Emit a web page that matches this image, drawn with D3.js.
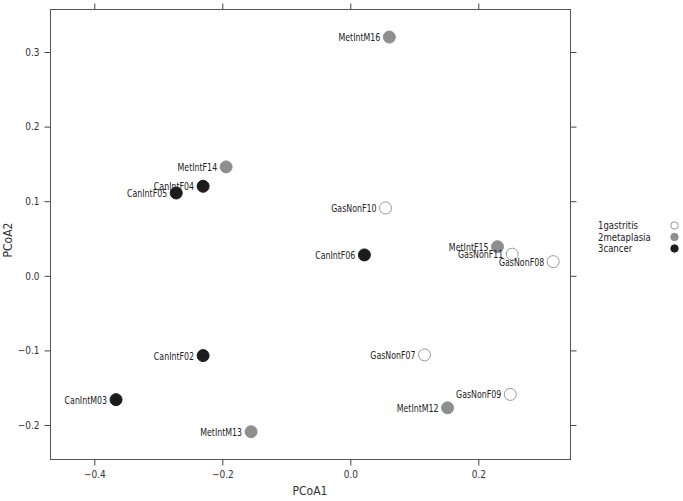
<!DOCTYPE html>
<html><head><meta charset="utf-8">
<script src="https://cdn.jsdelivr.net/npm/d3@7"></script>
<style>
body{margin:0;background:#fff;}
svg text{font-family:"DejaVu Sans Condensed","Open Sans",sans-serif;}
</style></head>
<body>
<svg id="c" width="683" height="501"></svg>
<script>
const samples = ["MetIntM16","MetIntF14","CanIntF04","CanIntF05","GasNonF10","CanIntF06","MetIntF15","GasNonF11","GasNonF08","GasNonF07","CanIntF02","GasNonF09","MetIntM12","CanIntM03","MetIntM13"];
const groups  = ["2metaplasia","2metaplasia","3cancer","3cancer","1gastritis","3cancer","2metaplasia","1gastritis","1gastritis","1gastritis","3cancer","1gastritis","2metaplasia","3cancer","2metaplasia"];
const pcoa1 = [0.061,-0.194,-0.230,-0.272,0.055,0.022,0.230,0.253,0.317,0.116,-0.230,0.250,0.152,-0.366,-0.155];
const pcoa2 = [0.320,0.146,0.120,0.111,0.091,0.028,0.039,0.029,0.019,-0.106,-0.107,-0.159,-0.177,-0.166,-0.209];
const legendGroups = ["1gastritis","2metaplasia","3cancer"];
const xTicks = [-0.4,-0.2,0.0,0.2];
const yTicks = [-0.2,-0.1,0.0,0.1,0.2,0.3];

const fill = {"1gastritis":"#ffffff","2metaplasia":"#8e8e8e","3cancer":"#1c1c1c"};
const stroke = {"1gastritis":"#9a9a9a","2metaplasia":"#8e8e8e","3cancer":"#1c1c1c"};

const L=50.5,R=570.5,T=9.5,B=459.5;
const x = d3.scaleLinear().domain([-0.4,0.2]).range([94.3,478.3]);
const y = d3.scaleLinear().domain([-0.2,0.3]).range([425,52]);

const svg = d3.select("#c");
const fmt = d3.format(".1f");
const tfmt = v => fmt(v).replace("-","\u2212");

function styleAxis(g){
  g.select(".domain").remove();
  g.selectAll(".tick line").attr("stroke","#444");
  g.selectAll(".tick text").attr("fill","#333").style("font-size","10px");
}
svg.append("g").attr("transform",`translate(0,${B})`)
  .call(d3.axisBottom(x).tickValues(xTicks).tickSize(6).tickPadding(5).tickFormat(tfmt)).call(styleAxis);
svg.append("g").attr("transform",`translate(0,${T})`)
  .call(d3.axisTop(x).tickValues(xTicks).tickSize(6).tickFormat("")).call(styleAxis);
svg.append("g").attr("transform",`translate(${L},0)`)
  .call(d3.axisLeft(y).tickValues(yTicks).tickSize(6).tickPadding(5).tickFormat(tfmt)).call(styleAxis);
svg.append("g").attr("transform",`translate(${R},0)`)
  .call(d3.axisRight(y).tickValues(yTicks).tickSize(6).tickFormat("")).call(styleAxis);

svg.append("rect").attr("x",L).attr("y",T).attr("width",R-L).attr("height",B-T)
  .attr("fill","none").attr("stroke","#555").attr("stroke-width",1);

const data = samples.map((s,i)=>({name:s,g:groups[i],x:pcoa1[i],y:pcoa2[i]}));
const r=6;
const pts = svg.append("g");
pts.selectAll("circle").data(data).enter().append("circle")
  .attr("cx",d=>x(d.x)).attr("cy",d=>y(d.y)).attr("r",r)
  .attr("fill",d=>fill[d.g]).attr("stroke",d=>stroke[d.g]).attr("stroke-width",1);
pts.selectAll("text").data(data).enter().append("text")
  .attr("transform",d=>`translate(${x(d.x)-r-3},${y(d.y)+4}) scale(0.85,1)`)
  .attr("text-anchor","end").attr("fill","#222").style("font-size","10.3px")
  .text(d=>d.name);

svg.append("text").attr("x",310).attr("y",495).attr("text-anchor","middle")
  .attr("fill","#333").style("font-size","12px").text("PCoA1");
svg.append("text").attr("transform","translate(12,240) rotate(-90)").attr("text-anchor","middle")
  .attr("fill","#333").style("font-size","12px").text("PCoA2");

const leg = svg.append("g");
legendGroups.forEach((g,i)=>{
  leg.append("text").attr("transform",`translate(598,${229+i*11.5}) scale(0.95,1)`).attr("fill","#222")
    .style("font-size","10px").text(g);
  leg.append("circle").attr("cx",674.5).attr("cy",225.5+i*11.5).attr("r",3.7)
    .attr("fill",fill[g]).attr("stroke",stroke[g]);
});
</script>
</body></html>
